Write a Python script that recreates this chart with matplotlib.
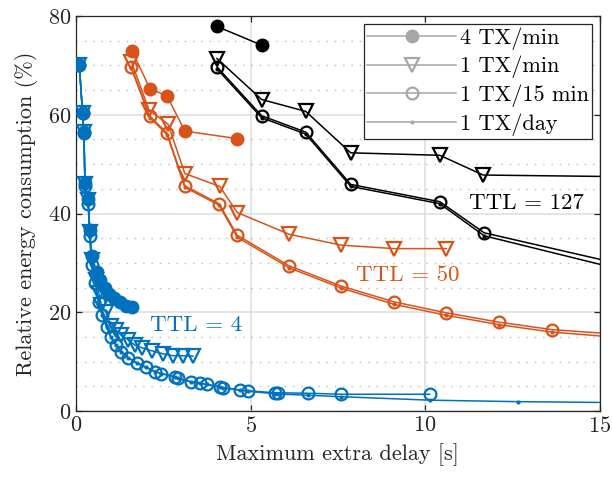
import matplotlib
matplotlib.use("Agg")
import matplotlib.pyplot as plt
from matplotlib.lines import Line2D
from matplotlib.ticker import MultipleLocator

plt.rcParams['font.family'] = 'serif'
plt.rcParams['font.serif'] = ['cmr10']
plt.rcParams['mathtext.fontset'] = 'cm'
plt.rcParams['axes.formatter.use_mathtext'] = True

# ---- data ----
# TTL = 127
k_f4_x = [4.04, 5.32]
k_f4_y = [77.9, 74.1]
k_min_x = [4.04, 5.32, 6.58, 7.87, 10.42, 11.66, 16.5]
k_min_y = [71.4, 63.1, 60.7, 52.3, 51.8, 47.8, 47.4]
k_15_x = [4.04, 5.32, 6.58, 7.87, 10.42, 11.69, 16.5]
k_15_y = [69.7, 59.8, 56.5, 45.9, 42.4, 36.1, 28.3]
k_day_x = [4.04, 5.32, 6.58, 7.87, 10.42, 11.69, 16.5]
k_day_y = [69.3, 59.4, 56.1, 45.5, 42.0, 35.5, 27.1]

# TTL = 50
o_f4_x = [1.61, 2.12, 2.61, 3.12, 4.60]
o_f4_y = [72.9, 65.3, 63.8, 56.7, 55.2]
o_min_x = [1.59, 2.10, 2.64, 3.12, 4.12, 4.62, 6.11, 7.60, 9.10, 10.61]
o_min_y = [70.7, 60.9, 58.1, 48.1, 45.5, 40.2, 35.8, 33.6, 32.9, 32.9]
o_15_x = [1.59, 2.12, 2.61, 3.12, 4.10, 4.62, 6.11, 7.60, 9.12, 10.60, 12.11, 13.62, 16.6]
o_15_y = [69.6, 59.7, 56.3, 45.6, 42.0, 35.6, 29.4, 25.3, 22.1, 19.9, 18.0, 16.5, 15.0]
o_day_x = [1.59, 2.12, 2.61, 3.12, 4.10, 4.62, 6.11, 7.60, 9.12, 10.60, 12.11, 13.62, 16.6]
o_day_y = [69.4, 59.4, 56.0, 45.3, 41.7, 35.2, 29.0, 24.9, 21.6, 19.4, 17.5, 16.0, 14.3]

# TTL = 4
b_f4_x = [0.10, 0.19, 0.23, 0.26, 0.35, 0.40, 0.45, 0.60, 0.70, 0.82, 0.95, 1.10, 1.25, 1.43, 1.62]
b_f4_y = [70.0, 60.3, 56.5, 46.1, 43.0, 36.6, 31.5, 28.2, 26.5, 25.0, 23.8, 22.8, 22.0, 21.3, 21.1]
b_min_x = [0.10, 0.19, 0.23, 0.26, 0.35, 0.40, 0.45, 0.57, 0.65, 0.72, 0.86, 1.00, 1.15, 1.29,
           1.50, 1.70, 1.90, 2.17, 2.49, 2.78, 3.06, 3.35]
b_min_y = [70.0, 60.3, 56.5, 46.0, 42.8, 36.3, 30.5, 26.5, 24.0, 21.5, 20.0, 17.2, 16.4, 15.4,
           14.4, 13.3, 12.8, 12.2, 11.6, 11.2, 11.2, 11.1]
b_15_x = [0.10, 0.19, 0.23, 0.26, 0.35, 0.40, 0.45, 0.55, 0.65, 0.75, 0.88, 1.00, 1.15, 1.30,
          1.50, 1.75, 2.00, 2.26, 2.45, 2.83, 2.93, 3.31, 3.55, 3.74, 4.12, 4.22, 4.69, 4.93,
          5.70, 5.78, 6.65, 7.60, 10.13]
b_15_y = [70.0, 60.3, 56.3, 45.5, 42.0, 35.5, 29.5, 26.0, 22.0, 19.5, 17.0, 15.0, 13.3, 12.0,
          10.8, 9.7, 8.9, 8.0, 7.6, 6.9, 6.6, 5.9, 5.6, 5.4, 4.9, 4.7, 4.3, 4.1,
          3.7, 3.7, 3.6, 3.4, 3.4]
b_day_x = b_15_x + [12.65, 17.0]
b_day_y = [70.0, 60.3, 56.3, 45.5, 42.0, 35.5, 29.5, 26.0, 22.0, 19.5, 17.0, 15.0, 13.3, 12.0,
           10.8, 9.7, 8.9, 8.0, 7.6, 6.9, 6.6, 5.9, 5.6, 5.4, 4.9, 4.7, 4.2, 4.0,
           3.5, 3.45, 3.2, 2.9, 2.2, 1.9, 1.6]

labels = ['4 TX/min', '1 TX/min', '1 TX/15 min', '1 TX/day']

blue = '#0072BD'
orange = '#D95319'
black = '#000000'

fs = 16

fig = plt.figure(figsize=(6.12, 4.87), dpi=100)
ax = fig.add_axes([0.124, 0.156, 0.856, 0.811])


def draw(c, f4, tmin, t15, tday):
    ax.plot(*f4, color=c, lw=1.1, marker='o', ms=9, mfc=c, mec=c, zorder=3)
    ax.plot(*tmin, color=c, lw=1.1, marker='v', ms=10, mfc='none', mec=c, mew=1.6, zorder=3)
    ax.plot(*t15, color=c, lw=1.1, marker='o', ms=8.5, mfc='none', mec=c, mew=1.6, zorder=3)
    ax.plot(*tday, color=c, lw=1.1, marker='.', ms=4, mfc=c, mec=c, zorder=3)


draw(black, (k_f4_x, k_f4_y), (k_min_x, k_min_y), (k_15_x, k_15_y), (k_day_x, k_day_y))
draw(orange, (o_f4_x, o_f4_y), (o_min_x, o_min_y), (o_15_x, o_15_y), (o_day_x, o_day_y))
draw(blue, (b_f4_x, b_f4_y), (b_min_x, b_min_y), (b_15_x, b_15_y), (b_day_x, b_day_y))

ax.text(12.9, 42.1, 'TTL = 127', color=black, fontsize=fs + 0.5, ha='center', va='center')
ax.text(9.5, 27.6, 'TTL = 50', color=orange, fontsize=fs + 0.5, ha='center', va='center')
ax.text(3.45, 17.4, 'TTL = 4', color=blue, fontsize=fs + 0.5, ha='center', va='center')

ax.set_xlim(0, 15)
ax.set_ylim(0, 80)
ax.xaxis.set_major_locator(MultipleLocator(5))
ax.yaxis.set_major_locator(MultipleLocator(20))
ax.yaxis.set_minor_locator(MultipleLocator(5))
ax.grid(True, which='major', color='#dcdcdc', lw=1.1, zorder=0)
ax.grid(True, which='minor', axis='y', color='#bdbdbd', lw=1.0, ls=(0, (1, 5)), zorder=0)
ax.set_axisbelow(True)
ax.tick_params(which='major', direction='in', length=4, width=0.9, top=True, right=True,
               labelsize=fs, colors='#262626')
ax.tick_params(which='minor', length=0)
for s in ax.spines.values():
    s.set_color('#262626')
    s.set_linewidth(0.9)

ax.set_xlabel('Maximum extra delay [s]', fontsize=fs, color='#262626', labelpad=5)
ax.set_ylabel('Relative energy consumption (%)', fontsize=fs, color='#262626', labelpad=7)

gray = '#a6a6a6'
handles = [
    Line2D([], [], color=gray, lw=1.1, marker='o', ms=9, mfc=gray, mec=gray),
    Line2D([], [], color=gray, lw=1.1, marker='v', ms=10, mfc='none', mec=gray, mew=1.6),
    Line2D([], [], color=gray, lw=1.1, marker='o', ms=8.5, mfc='none', mec=gray, mew=1.6),
    Line2D([], [], color=gray, lw=1.1, marker='.', ms=4, mfc=gray, mec=gray),
]
leg = ax.legend(handles, labels, loc='upper right', fontsize=fs, handlelength=4.0,
                handletextpad=0.15, borderaxespad=0.35, labelspacing=0.28,
                fancybox=False, framealpha=1, edgecolor='#262626', borderpad=0.15)
leg.get_frame().set_linewidth(0.9)

fig.savefig('out.png', dpi=100)
